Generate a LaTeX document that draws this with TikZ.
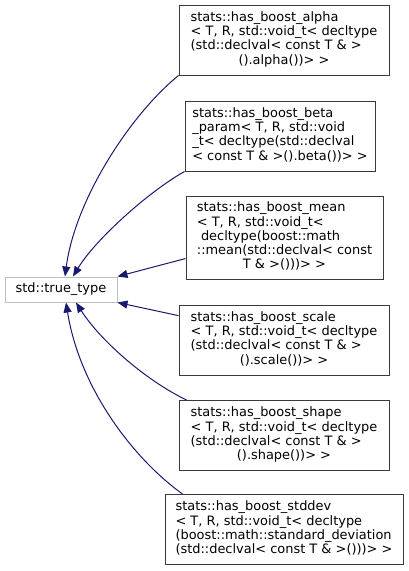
\documentclass[tikz,border=0pt]{standalone}
\usepackage{fontspec}
\setmainfont{DejaVu Sans}
\usetikzlibrary{arrows.meta}

\definecolor{edgeblue}{HTML}{191970}
\definecolor{boxgray}{HTML}{3A3A3A}
\definecolor{basegray}{HTML}{BFBFBF}

\newcommand{\lastrow}[1]{\multicolumn{1}{@{}c@{}}{#1}}

\tikzset{
  cls/.style={draw=boxgray, line width=0.75pt, inner sep=0pt,
    font=\fontsize{9.7}{10.7}\selectfont},
  base/.style={cls, draw=basegray},
  inherit/.style={draw=edgeblue, line width=0.75pt,
    {Triangle[length=7.5pt,width=6pt]}-}
}

\begin{document}
\begin{tikzpicture}[x=0.75pt,y=-0.75pt]

\useasboundingbox (0,0) rectangle (409,571);

% Base class
\node[base, minimum width=84pt, minimum height=18.75pt] (tt) at (61,289.5) {std::true\_type};

% Derived classes
\node[cls, minimum width=157.5pt, minimum height=52.5pt] (alpha) at (284,40) {%
  \begin{tabular}{@{}l@{}}
  stats::has\_boost\_alpha\\
  < T, R, std::void\_t< decltype\\
  (std::declval< const T \& >\\
  \lastrow{().alpha())> >}
  \end{tabular}};
\node[cls, minimum width=142.5pt, minimum height=52.5pt] (beta) at (280,136) {%
  \begin{tabular}{@{}l@{}}
  stats::has\_boost\_beta\\
  \_param< T, R, std::void\\
  \_t< decltype(std::declval\\
  < const T \& >().beta())> >
  \end{tabular}};
\node[cls, minimum width=147.75pt, minimum height=62.25pt] (mean) at (284.5,237.5) {%
  \begin{tabular}{@{}l@{}}
  stats::has\_boost\_mean\\
  < T, R, std::void\_t<\\
  \ decltype(boost::math\\
  ::mean(std::declval< const\\
  \lastrow{T \& >()))> >}
  \end{tabular}};
\node[cls, minimum width=157.5pt, minimum height=52.5pt] (scale) at (284,340) {%
  \begin{tabular}{@{}l@{}}
  stats::has\_boost\_scale\\
  < T, R, std::void\_t< decltype\\
  (std::declval< const T \& >\\
  \lastrow{().scale())> >}
  \end{tabular}};
\node[cls, minimum width=157.5pt, minimum height=52.5pt] (shape) at (284,435.5) {%
  \begin{tabular}{@{}l@{}}
  stats::has\_boost\_shape\\
  < T, R, std::void\_t< decltype\\
  (std::declval< const T \& >\\
  \lastrow{().shape())> >}
  \end{tabular}};
\node[cls, minimum width=178.5pt, minimum height=52.5pt] (stddev) at (284,529.5) {%
  \begin{tabular}{@{}l@{}}
  stats::has\_boost\_stddev\\
  < T, R, std::void\_t< decltype\\
  (boost::math::standard\_deviation\\
  (std::declval< const T \& >()))> >
  \end{tabular}};

% Inheritance edges
\draw[inherit] ([xshift=3pt]tt.north) .. controls (75,200) and (130,115) .. (alpha.south west);
\draw[inherit] ([xshift=9pt]tt.north) .. controls (95,240) and (148,192) .. (beta.south west);
\draw[inherit] (tt.north east) -- (mean.192);
\draw[inherit] (tt.south east) -- (scale.167);
\draw[inherit] ([xshift=11.25pt]tt.south) .. controls (100,340) and (145,380) .. ([xshift=6pt]shape.north west);
\draw[inherit] ([xshift=3.75pt]tt.south) .. controls (80,390) and (135,460) .. ([xshift=13.5pt]stddev.north west);

\end{tikzpicture}
\end{document}
